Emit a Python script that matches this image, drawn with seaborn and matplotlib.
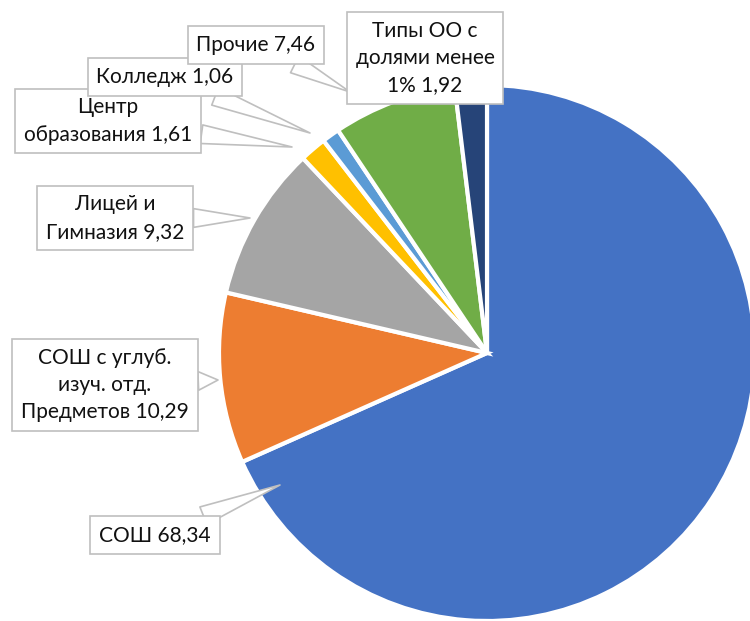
import numpy as np
import seaborn as sns
import matplotlib.pyplot as plt

sns.set_theme(style="white")
plt.rcParams['font.family'] = ['Lato', 'DejaVu Sans']

labels = ["СОШ 68,34", "СОШ с углуб.\nизуч. отд.\nПредметов 10,29", "Лицей и\nГимназия 9,32",
          "Центр\nобразования 1,61", "Колледж 1,06", "Прочие 7,46", "Типы ОО с\nдолями менее\n1% 1,92"]
values = [68.34, 10.29, 9.32, 1.61, 1.06, 7.46, 1.92]
colors = ["#4472C4", "#ED7D31", "#A5A5A5", "#FFC000", "#5B9BD5", "#70AD47", "#264478"]

# label box centres and leader anchor points (pixel coords, top origin)
box_xy = [(155, 535), (105, 385), (115, 218), (108, 121), (165, 77), (256, 45), (425, 58)]
tip_xy = [(280, 485), (218, 380), (250, 218), (292, 147), (310, 133), (350, 92), None]

W, H = 750, 621
fig = plt.figure(figsize=(7.5, 6.21), dpi=100)
ax = fig.add_axes([0, 0, 1, 1])

ax.pie(values, colors=colors, startangle=90, counterclock=False,
       center=(487, H - 353), radius=268,
       wedgeprops=dict(edgecolor='white', linewidth=3))
ax.set_xlim(0, W)
ax.set_ylim(0, H)
ax.set_aspect('equal')
ax.axis('off')

for lab, (bx, by), tip in zip(labels, box_xy, tip_xy):
    bbox = dict(boxstyle='square,pad=0.42', fc='white', ec='#BFBFBF', lw=1.2)
    if tip is None:
        ax.text(bx, H - by, lab, ha='center', va='center', fontsize=15,
                color='#111111', bbox=bbox, linespacing=1.45, zorder=5)
    else:
        ax.annotate(lab, xy=(tip[0], H - tip[1]), xytext=(bx, H - by),
                    ha='center', va='center', fontsize=15, color='#111111',
                    bbox=bbox, linespacing=1.45, zorder=5,
                    arrowprops=dict(arrowstyle='wedge,tail_width=0.9', fc='white',
                                    ec='#BFBFBF', lw=1.2, shrinkA=0, shrinkB=0))

fig.savefig("out.png", dpi=100)
